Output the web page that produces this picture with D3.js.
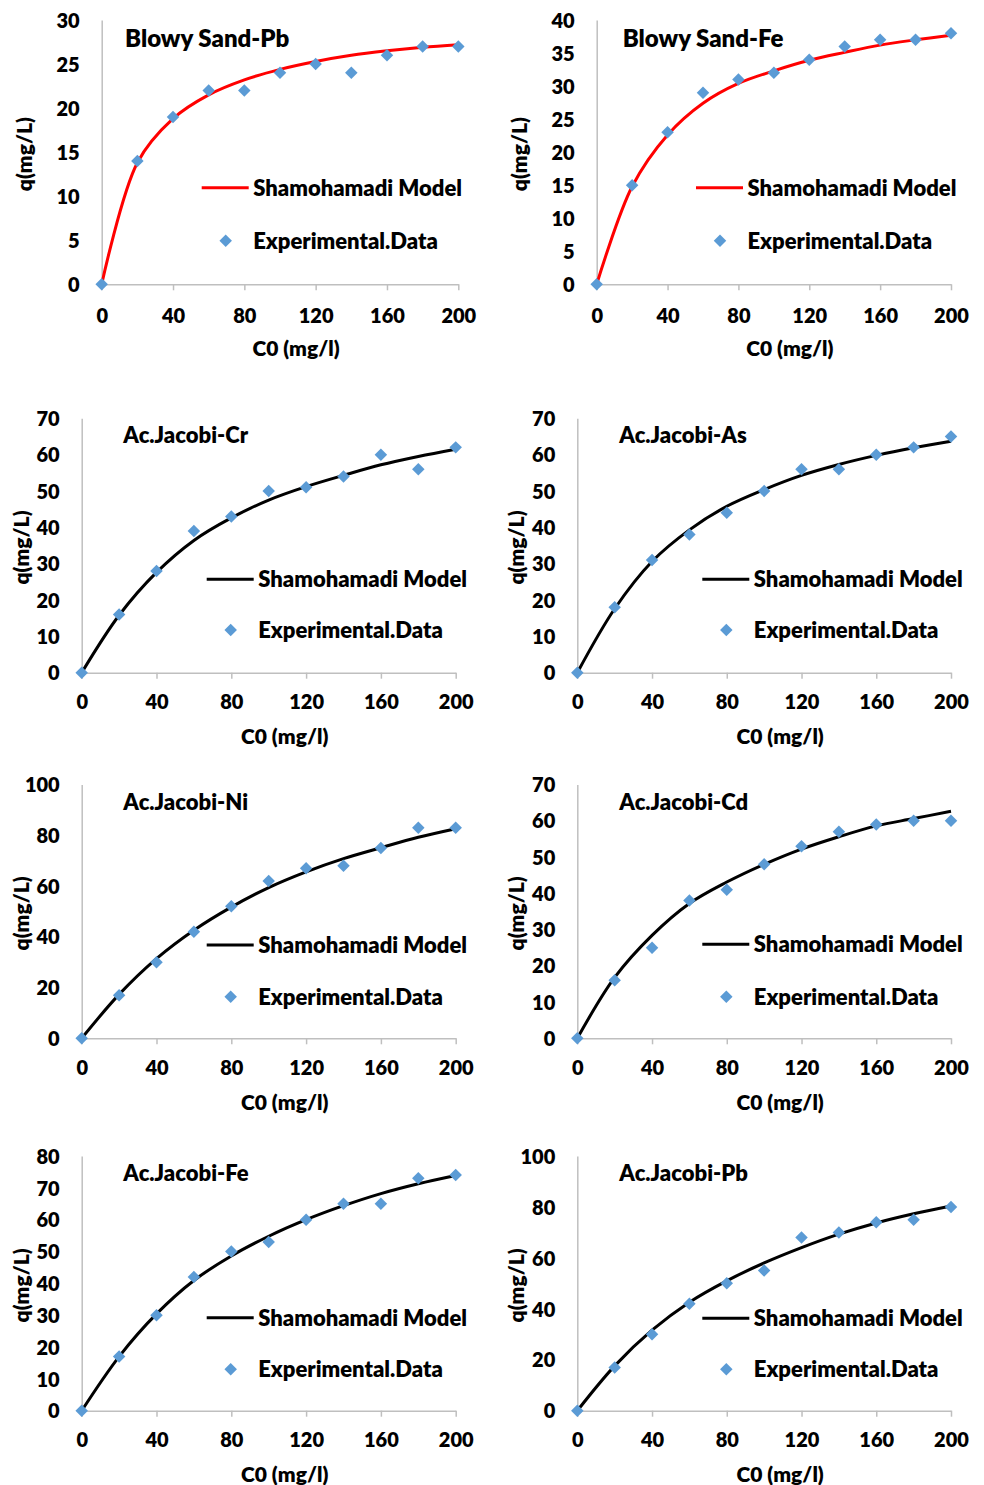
<!DOCTYPE html>
<html>
<head>
<meta charset="utf-8">
<script src="https://cdn.jsdelivr.net/npm/d3@7"></script>
<style>
  html, body { margin: 0; padding: 0; background: #fff; }
  svg text { font-family: Lato, "Open Sans", sans-serif; font-weight: 800; fill: #000; }
</style>
</head>
<body>
<svg id="chart" width="984" height="1485"></svg>
<script>
// Initial concentration C0 (mg/l) shared by every panel
const c0 = [0, 20, 40, 60, 80, 100, 120, 140, 160, 180, 200];
const xTicks = [0, 40, 80, 120, 160, 200];

const titles = ["Blowy Sand-Pb", "Blowy Sand-Fe", "Ac.Jacobi-Cr", "Ac.Jacobi-As",
                "Ac.Jacobi-Ni", "Ac.Jacobi-Cd", "Ac.Jacobi-Fe", "Ac.Jacobi-Pb"];
const yMax  = [30, 40, 70, 70, 100, 70, 80, 100];
const yStep = [5, 5, 10, 10, 20, 10, 10, 20];

// Experimental uptake q (mg/L)
const expSandPb = [0, 14, 19, 22, 22, 24, 25, 24, 26, 27, 27];
const expSandFe = [0, 15, 23, 29, 31, 32, 34, 36, 37, 37, 38];
const expCr     = [0, 16, 28, 39, 43, 50, 51, 54, 60, 56, 62];
const expAs     = [0, 18, 31, 38, 44, 50, 56, 56, 60, 62, 65];
const expNi     = [0, 17, 30, 42, 52, 62, 67, 68, 75, 83, 83];
const expCd     = [0, 16, 25, 38, 41, 48, 53, 57, 59, 60, 60];
const expFe     = [0, 17, 30, 42, 50, 53, 60, 65, 65, 73, 74];
const expPb     = [0, 17, 30, 42, 50, 55, 68, 70, 74, 75, 80];

// Shamohamadi model predictions at the same C0 values
const modSandPb = [0, 13.8, 18.8, 21.5, 23.2, 24.4, 25.3, 26.0, 26.5, 26.9, 27.2];
const modSandFe = [0, 14.8, 22.6, 27.4, 30.4, 32.3, 33.9, 35.1, 36.2, 37.0, 37.7];
const modCr     = [0, 15.8, 27.6, 36.4, 42.6, 47.5, 51.2, 54.3, 57.2, 59.5, 61.5];
const modAs     = [0, 17.6, 30.6, 39.3, 45.8, 50.4, 54.3, 57.3, 59.8, 61.9, 63.7];
const modNi     = [0, 17.3, 31.4, 42.6, 51.7, 59.4, 65.6, 70.8, 75.1, 79.2, 82.6];
const modCd     = [0, 16.8, 28.4, 37.2, 43.1, 48.0, 52.2, 55.6, 58.6, 60.6, 62.6];
const modFe     = [0, 17.0, 30.4, 40.9, 48.6, 54.8, 60.0, 64.4, 68.2, 71.3, 73.9];
const modPb     = [0, 17.6, 31.6, 42.6, 51.0, 58.0, 64.0, 69.3, 73.7, 77.3, 80.4];

const expSeries = [expSandPb, expSandFe, expCr, expAs, expNi, expCd, expFe, expPb];
const modSeries = [modSandPb, modSandFe, modCr, modAs, modNi, modCd, modFe, modPb];

// Panel frames: plot-area left/right edges per panel, top/bottom per row
const frameLeft   = [101.7, 596.7, 81.7, 577.3, 81.7, 577.3, 81.7, 577.3];
const frameRight  = [458.3, 951, 455.7, 951, 455.7, 951, 455.7, 951];
const rowTop      = [20, 418.3, 784.5, 1156];
const rowBottom   = [284.3, 672.7, 1038.3, 1410.7];
const yTitleX     = [24, 519, 21, 516, 21, 516, 21, 516];
const titleX      = [125, 622.7, 123.3, 619.3, 123.3, 619.3, 123.3, 619.3];
const titleY      = [38, 38, 435, 435, 801.7, 801.7, 1173.3, 1173.3];
const titleSize   = [24, 24, 22, 22, 22, 22, 22, 22];
const legLineX    = [201.7, 696, 206.7, 702.3, 206.7, 702.3, 206.7, 702.3];
const legLineY    = [187.7, 187.7, 579.3, 579.3, 945, 944.3, 1317.7, 1318.3];
const legDotY     = [240.7, 240.7, 630, 630, 996.7, 996.7, 1369.3, 1369.3];

const svg = d3.select("#chart");
const axisGrey = "#bfbfbf";
const blue = "#5b9bd5";
const fontStack = "Lato, 'Open Sans', sans-serif";
const diamond = d3.symbol().type(d3.symbolSquare).size(78);

titles.forEach((title, i) => {
  const row = Math.floor(i / 2);
  const lineColor = i < 2 ? "#ff0000" : "#000000";
  const x = d3.scaleLinear().domain([0, 200]).range([frameLeft[i], frameRight[i]]);
  const y = d3.scaleLinear().domain([0, yMax[i]]).range([rowBottom[row], rowTop[row]]);
  const g = svg.append("g");

  // y axis: plain grey line, labels only
  const yTicks = d3.range(0, yMax[i] + 0.001, yStep[i]);
  const ya = g.append("g")
    .attr("transform", `translate(${x(0)},0)`)
    .call(d3.axisLeft(y).tickValues(yTicks).tickSize(0).tickSizeOuter(0).tickPadding(22));
  ya.select(".domain").attr("stroke", axisGrey).attr("stroke-width", 1.5);
  ya.selectAll("text").attr("font-size", 20).attr("dy", "0.36em")
    .style("font-family", fontStack).style("font-weight", 800);

  // x axis with short downward ticks
  const labelOff = i < 2 ? 32 : 29.5;
  const xa = g.append("g")
    .attr("transform", `translate(0,${y(0)})`)
    .call(d3.axisBottom(x).tickValues(xTicks).tickSize(6).tickSizeOuter(0));
  xa.select(".domain").attr("stroke", axisGrey).attr("stroke-width", 1.5);
  xa.selectAll("line").attr("stroke", axisGrey).attr("stroke-width", 1.5);
  xa.selectAll("text").attr("font-size", 20).attr("y", labelOff).attr("dy", "0.36em")
    .style("font-family", fontStack).style("font-weight", 800);

  // axis titles
  g.append("text")
    .attr("x", (frameLeft[i] + frameRight[i]) / 2 + 16)
    .attr("y", y(0) + 64).attr("dy", "0.36em")
    .attr("text-anchor", "middle").attr("font-size", 21)
    .text("C0 (mg/l)");
  g.append("text")
    .attr("transform", `translate(${yTitleX[i]},${(rowTop[row] + rowBottom[row]) / 2 + 2}) rotate(-90)`)
    .attr("dy", "0.36em").attr("text-anchor", "middle").attr("font-size", 21)
    .text("q(mg/L)");

  // panel title
  g.append("text").attr("x", titleX[i]).attr("y", titleY[i]).attr("dy", "0.36em")
    .attr("font-size", titleSize[i]).text(title);

  // model curve
  const pts = c0.map((c, k) => [c, modSeries[i][k]]);
  g.append("path").datum(pts)
    .attr("fill", "none").attr("stroke", lineColor).attr("stroke-width", 3)
    .attr("stroke-linejoin", "round")
    .attr("d", d3.line().x(d => x(d[0])).y(d => y(d[1])).curve(d3.curveCatmullRom.alpha(0.5)));

  // experimental points
  g.append("g").selectAll("path")
    .data(c0.map((c, k) => [c, expSeries[i][k]]))
    .join("path")
    .attr("d", diamond)
    .attr("fill", blue)
    .attr("transform", d => `translate(${x(d[0])},${y(d[1])}) rotate(45)`);

  // legend
  const lx = legLineX[i];
  g.append("line").attr("x1", lx).attr("x2", lx + 47)
    .attr("y1", legLineY[i]).attr("y2", legLineY[i])
    .attr("stroke", lineColor).attr("stroke-width", 3);
  g.append("text").attr("x", lx + 51.5).attr("y", legLineY[i]).attr("dy", "0.36em")
    .attr("font-size", 22).text("Shamohamadi Model");
  g.append("path").attr("d", diamond).attr("fill", blue)
    .attr("transform", `translate(${lx + 24},${legDotY[i]}) rotate(45)`);
  g.append("text").attr("x", lx + 51.5).attr("y", legDotY[i]).attr("dy", "0.36em")
    .attr("font-size", 22).text("Experimental.Data");
});
</script>
</body>
</html>
